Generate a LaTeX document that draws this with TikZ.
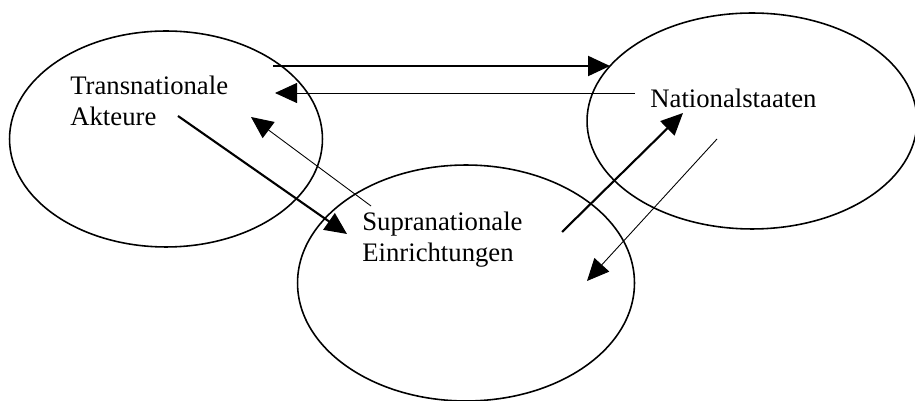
\documentclass[tikz,border=0pt]{standalone}
\usepackage{fontspec}
\setmainfont{Liberation Serif}
\usetikzlibrary{shapes.geometric, arrows.meta}
\tikzset{
  bubble/.style   = {ellipse, draw=black, line width=0.9pt, inner sep=0pt},
  lbl/.style      = {font=\fontsize{15.2pt}{18.2pt}\selectfont, align=left, inner sep=0pt, anchor=base west},
  flowfat/.style  = {-{Triangle[length=0.44cm, width=0.4cm]}, line width=1.2pt, black},
  flowthin/.style = {-{Triangle[length=0.44cm, width=0.4cm]}, line width=0.5pt, black},
}

\begin{document}
\begin{tikzpicture}[x=0.02cm, y=-0.02cm]

\useasboundingbox (0,0) rectangle (915,401);

% ==================== Ellipsen ====================
\node[bubble, minimum width=6.26cm, minimum height=4.32cm] (TA) at (166,139) {};
\node[bubble, minimum width=6.6cm,  minimum height=4.32cm] (NS) at (752,121) {};
\node[bubble, minimum width=6.74cm, minimum height=4.72cm] (SE) at (466,283) {};

% ==================== Beschriftungen ====================
\node[lbl] (ta) at (70,126)  {Transnationale\\Akteure};
\node[lbl] (ns) at (650,108) {Nationalstaaten};
\node[lbl] (se) at (362,262) {Supranationale\\Einrichtungen};

% ==================== Pfeilenden ====================
\coordinate (ta-out)  at (273,66);
\coordinate (ns-in)   at (610,66);
\coordinate (ns-out)  at (635,93);
\coordinate (ta-in)   at (275,93);
\coordinate (ta-dn)   at (178,116);
\coordinate (se-in)   at (347,234);
\coordinate (se-up)   at (371,206);
\coordinate (ta-in2)  at (251,117);
\coordinate (se-out)  at (562,232);
\coordinate (ns-in2)  at (683,113);
\coordinate (ns-dn)   at (717,139);
\coordinate (se-in2)  at (587,281);

% ==================== Pfeile ====================
\draw[flowfat]  (ta-out) -- (ns-in);
\draw[flowthin] (ns-out) -- (ta-in);
\draw[flowfat]  (ta-dn)  -- (se-in);
\draw[flowthin] (se-up)  -- (ta-in2);
\draw[flowfat]  (se-out) -- (ns-in2);
\draw[flowthin] (ns-dn)  -- (se-in2);

\end{tikzpicture}
\end{document}
